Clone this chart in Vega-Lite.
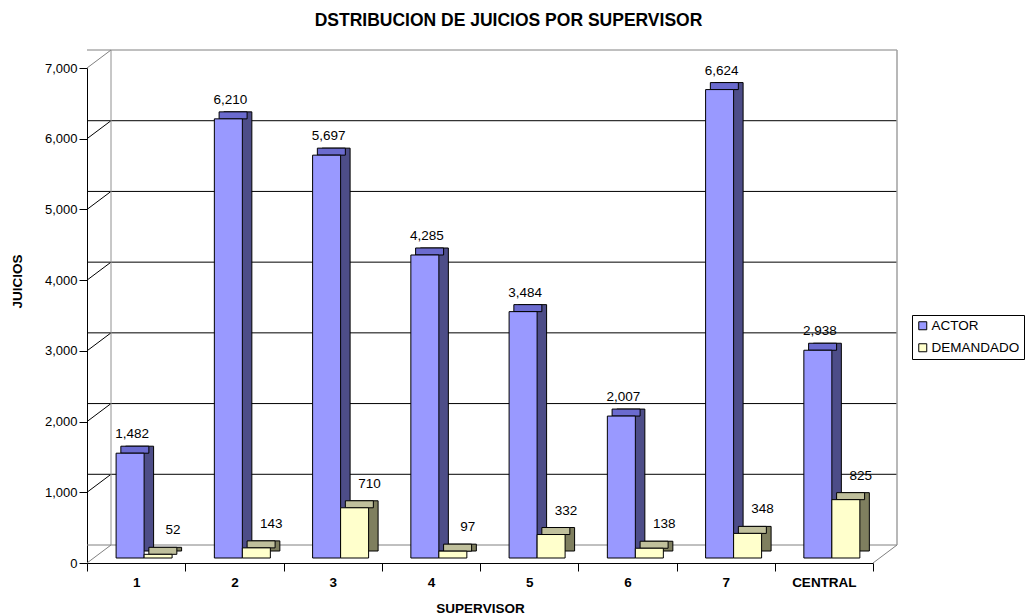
{
  "$schema": "https://vega.github.io/schema/vega-lite/v6.json",
  "width": 786,
  "height": 495,
  "autosize": "none",
  "padding": {"left": 87, "top": 68, "right": 154, "bottom": 51},
  "background": "white",
  "config": {
    "font": "Liberation Sans",
    "view": {"stroke": null},
    "numberFormat": ",d",
    "axisX": {"tickBand": "extent", "labelAngle": 0, "labelFontWeight": "bold", "labelFontSize": 13.5, "labelColor": "black", "tickColor": "black", "domainColor": "black", "tickSize": 8, "labelPadding": 4, "titleFontSize": 13.5, "titleFontWeight": "bold", "titleColor": "black", "titleY": 49, "titleBaseline": "alphabetic", "grid": false},
    "axisY": {"tickCount": 7, "labelFontSize": 13, "labelColor": "black", "tickColor": "black", "domainColor": "black", "tickSize": 8, "labelPadding": 2, "grid": false, "titleFontSize": 13.5, "titleFontWeight": "bold", "titleColor": "black", "titleX": -70, "titleY": 213, "titleAngle": -90, "titleAlign": "center", "titleBaseline": "middle"}
  },
  "title": {"text": "DSTRIBUCION DE JUICIOS POR SUPERVISOR", "font": "Liberation Sans", "fontSize": 17.5, "fontWeight": "bold", "color": "black", "anchor": "middle", "dx": 28.5, "offset": 20},
  "datasets": {
    "bars": [
      {"sup": "1", "serie": "ACTOR", "v": 1482},
      {"sup": "1", "serie": "DEMANDADO", "v": 52},
      {"sup": "2", "serie": "ACTOR", "v": 6210},
      {"sup": "2", "serie": "DEMANDADO", "v": 143},
      {"sup": "3", "serie": "ACTOR", "v": 5697},
      {"sup": "3", "serie": "DEMANDADO", "v": 710},
      {"sup": "4", "serie": "ACTOR", "v": 4285},
      {"sup": "4", "serie": "DEMANDADO", "v": 97},
      {"sup": "5", "serie": "ACTOR", "v": 3484},
      {"sup": "5", "serie": "DEMANDADO", "v": 332},
      {"sup": "6", "serie": "ACTOR", "v": 2007},
      {"sup": "6", "serie": "DEMANDADO", "v": 138},
      {"sup": "7", "serie": "ACTOR", "v": 6624},
      {"sup": "7", "serie": "DEMANDADO", "v": 348},
      {"sup": "CENTRAL", "serie": "ACTOR", "v": 2938},
      {"sup": "CENTRAL", "serie": "DEMANDADO", "v": 825}
    ],
    "ticks": [{"v": 0}, {"v": 1000}, {"v": 2000}, {"v": 3000}, {"v": 4000}, {"v": 5000}, {"v": 6000}, {"v": 7000}]
  },
  "data": {"name": "bars"},
  "resolve": {"scale": {"xOffset": "independent"}},
  "layer": [
    {
      "data": {"name": "ticks"},
      "transform": [{"filter": "datum.v > 0 && datum.v < 7000"}],
      "mark": {"type": "rule", "color": "black", "strokeWidth": 1, "xOffset": 24, "x2Offset": 24, "yOffset": -18},
      "encoding": {"y": {"field": "v", "type": "quantitative", "title": "JUICIOS", "scale": {"domain": [0, 7000], "nice": false}}}
    },
    {
      "data": {"name": "ticks"},
      "transform": [{"filter": "datum.v == 0 || datum.v == 7000"}],
      "mark": {"type": "rule", "color": "#808080", "strokeWidth": 1, "xOffset": 24, "x2Offset": 24, "yOffset": -18},
      "encoding": {"y": {"field": "v", "type": "quantitative", "title": "JUICIOS"}}
    },
    {
      "data": {"name": "ticks"},
      "transform": [{"filter": "datum.v > 0 && datum.v < 7000"}],
      "mark": {"type": "rule", "color": "black", "strokeWidth": 1, "x2Offset": 24, "y2Offset": -18},
      "encoding": {
        "x": {"datum": "1", "type": "nominal", "bandPosition": 0, "title": "SUPERVISOR"},
        "x2": {"datum": "1", "bandPosition": 0},
        "y": {"field": "v", "type": "quantitative", "title": "JUICIOS"},
        "y2": {"field": "v"}
      }
    },
    {
      "data": {"name": "ticks"},
      "transform": [{"filter": "datum.v == 0 || datum.v == 7000"}],
      "mark": {"type": "rule", "color": "#808080", "strokeWidth": 1, "x2Offset": 24, "y2Offset": -18},
      "encoding": {
        "x": {"datum": "1", "type": "nominal", "bandPosition": 0, "title": "SUPERVISOR"},
        "x2": {"datum": "1", "bandPosition": 0},
        "y": {"field": "v", "type": "quantitative", "title": "JUICIOS"},
        "y2": {"field": "v"}
      }
    },
    {
      "data": {"values": [{"a": 1}]},
      "mark": {"type": "rule", "color": "#909090", "strokeWidth": 1, "xOffset": 24, "yOffset": -18, "y2Offset": -18},
      "encoding": {
        "x": {"datum": "1", "type": "nominal", "bandPosition": 0, "title": "SUPERVISOR"},
        "y": {"datum": 0, "type": "quantitative", "title": "JUICIOS"},
        "y2": {"datum": 7000}
      }
    },
    {
      "data": {"values": [{"a": 1}]},
      "mark": {"type": "rule", "color": "#A0A0A0", "strokeWidth": 1.5, "xOffset": 24, "yOffset": -18, "y2Offset": -18},
      "encoding": {
        "x": {"datum": "CENTRAL", "type": "nominal", "bandPosition": 1, "title": "SUPERVISOR"},
        "y": {"datum": 0, "type": "quantitative", "title": "JUICIOS"},
        "y2": {"datum": 7000}
      }
    },
    {
      "data": {"values": [{"a": 1}]},
      "mark": {"type": "rule", "color": "#808080", "strokeWidth": 1, "x2Offset": 24, "y2Offset": -18},
      "encoding": {
        "x": {"datum": "CENTRAL", "type": "nominal", "bandPosition": 1, "title": "SUPERVISOR"},
        "x2": {"datum": "CENTRAL", "bandPosition": 1},
        "y": {"datum": 0, "type": "quantitative", "title": "JUICIOS"},
        "y2": {"datum": 0}
      }
    },
    {
      "mark": {"type": "bar", "stroke": "black", "strokeWidth": 1, "yOffset": -12, "y2Offset": -12},
      "encoding": {
        "x": {"field": "sup", "type": "nominal", "title": "SUPERVISOR", "sort": ["1", "2", "3", "4", "5", "6", "7", "CENTRAL"], "scale": {"domain": ["1", "2", "3", "4", "5", "6", "7", "CENTRAL"], "paddingInner": 0, "paddingOuter": 0}},
        "xOffset": {"field": "serie", "type": "nominal", "scale": {"domain": ["ACTOR", "DEMANDADO"], "paddingInner": 0, "paddingOuter": 0, "range": [38.6, 94.6]}},
        "y": {"field": "v", "type": "quantitative", "title": "JUICIOS"},
        "y2": {"datum": 0},
        "fill": {"condition": {"test": "datum.serie === 'ACTOR'", "value": "#4D4D88"}, "value": "#7F7F5F"}
      }
    },
    {
      "mark": {"type": "bar", "stroke": "black", "strokeWidth": 1, "yOffset": -12, "y2Offset": -5},
      "encoding": {
        "x": {"field": "sup", "type": "nominal", "title": "SUPERVISOR", "sort": ["1", "2", "3", "4", "5", "6", "7", "CENTRAL"]},
        "xOffset": {"field": "serie", "type": "nominal", "scale": {"domain": ["ACTOR", "DEMANDADO"], "paddingInner": 0, "paddingOuter": 0, "range": [33.85, 89.85]}},
        "y": {"field": "v", "type": "quantitative", "title": "JUICIOS"},
        "y2": {"field": "v"},
        "fill": {"condition": {"test": "datum.serie === 'ACTOR'", "value": "#6B6BCF"}, "value": "#C0C09C"}
      }
    },
    {
      "mark": {"type": "bar", "stroke": "black", "strokeWidth": 1, "yOffset": -5, "y2Offset": -5},
      "encoding": {
        "x": {"field": "sup", "type": "nominal", "title": "SUPERVISOR", "sort": ["1", "2", "3", "4", "5", "6", "7", "CENTRAL"]},
        "xOffset": {"field": "serie", "type": "nominal", "scale": {"domain": ["ACTOR", "DEMANDADO"], "paddingInner": 0, "paddingOuter": 0, "range": [29.1, 85.1]}},
        "y": {"field": "v", "type": "quantitative", "title": "JUICIOS"},
        "y2": {"datum": 0},
        "color": {
          "field": "serie", "type": "nominal",
          "scale": {"domain": ["ACTOR", "DEMANDADO"], "range": ["#9999FF", "#FFFFCC"]},
          "legend": {"orient": "none", "legendX": 825, "legendY": 247, "title": null, "strokeColor": "black", "fillColor": "white", "padding": 4, "symbolType": "square", "symbolSize": 64, "symbolStrokeColor": "black", "symbolStrokeWidth": 1, "labelFontSize": 13.5, "labelColor": "black", "labelOffset": 2, "rowPadding": 7}
        }
      }
    },
    {
      "transform": [{"filter": "datum.serie === 'ACTOR'"}],
      "mark": {"type": "text", "fontSize": 13.5, "color": "black", "dx": 2, "dy": -20, "baseline": "alphabetic", "align": "center"},
      "encoding": {
        "x": {"field": "sup", "type": "nominal", "title": "SUPERVISOR", "sort": ["1", "2", "3", "4", "5", "6", "7", "CENTRAL"]},
        "xOffset": {"field": "serie", "type": "nominal", "scale": {"domain": ["ACTOR", "DEMANDADO"], "padding": 0, "range": [43.1, 71.1]}},
        "y": {"field": "v", "type": "quantitative", "title": "JUICIOS"},
        "text": {"field": "v", "type": "quantitative", "format": ","}
      }
    },
    {
      "transform": [{"filter": "datum.serie === 'DEMANDADO'"}],
      "mark": {"type": "text", "fontSize": 13.5, "color": "black", "dx": 15, "dy": -25, "baseline": "alphabetic", "align": "center"},
      "encoding": {
        "x": {"field": "sup", "type": "nominal", "title": "SUPERVISOR", "sort": ["1", "2", "3", "4", "5", "6", "7", "CENTRAL"]},
        "xOffset": {"field": "serie", "type": "nominal", "scale": {"domain": ["ACTOR", "DEMANDADO"], "padding": 0, "range": [43.1, 71.1]}},
        "y": {"field": "v", "type": "quantitative", "title": "JUICIOS"},
        "text": {"field": "v", "type": "quantitative", "format": ","}
      }
    }
  ]
}
